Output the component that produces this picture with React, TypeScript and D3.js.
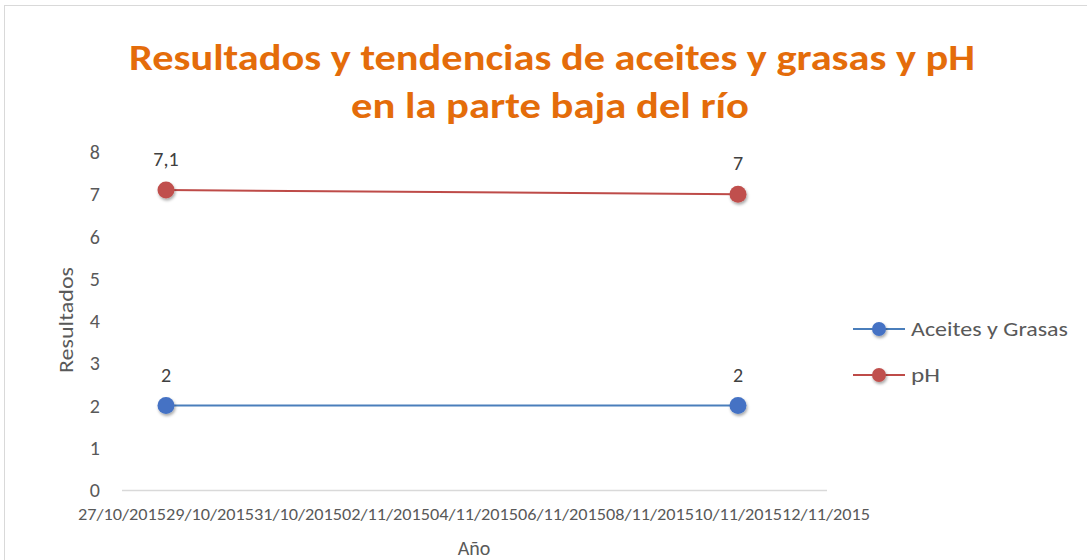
import { useEffect, useRef } from 'react';
import * as d3 from 'd3';

// data
const dates = ['2015-10-28', '2015-11-10'];
const aceites = [2, 2];
const ph = [7.1, 7];
const seriesNames = ['Aceites y Grasas', 'pH'];
const seriesColors = ['#4A7EBB', '#BE4B48'];
const markerColors = ['#4472C4', '#C0504D'];
const yTicks = [0, 1, 2, 3, 4, 5, 6, 7, 8];
const xStart = '2015-10-27';
const xEnd = '2015-11-12';

const parse = d3.utcParse('%Y-%m-%d');
const fmtLabel = d3.utcFormat('%d/%m/%Y');

export default function App() {
  const svgRef = useRef<SVGSVGElement>(null);

  useEffect(() => {
    if (!svgRef.current) return;
    const width = 1087;
    const height = 560;

    const svg = d3.select(svgRef.current);
    svg.selectAll('*').remove();

    const font = 'Carlito, Calibri, Lato, sans-serif';

    // shadow for markers
    const defs = svg.append('defs');
    const f = defs.append('filter').attr('id', 'shadow').attr('x', '-50%').attr('y', '-50%').attr('width', '200%').attr('height', '200%');
    f.append('feDropShadow').attr('dx', 1).attr('dy', 2).attr('stdDeviation', 1.5).attr('flood-color', '#000').attr('flood-opacity', 0.35);

    svg.append('rect').attr('width', width).attr('height', height).attr('fill', '#fff');
    // chart border
    svg
      .append('rect')
      .attr('x', 4.5)
      .attr('y', 5.5)
      .attr('width', width + 10)
      .attr('height', height + 10)
      .attr('fill', 'none')
      .attr('stroke', '#D9D9D9');

    // title
    const title = svg
      .append('text')
      .attr('text-anchor', 'middle')
      .style('font-family', font)
      .style('font-size', '36px')
      .style('font-weight', 'bold')
      .attr('fill', '#E46C0A');
    title.append('tspan').attr('x', 552).attr('y', 70).attr('textLength', 846).attr('lengthAdjust', 'spacingAndGlyphs').text('Resultados y tendencias de aceites y grasas y pH');
    title.append('tspan').attr('x', 550).attr('y', 118).attr('textLength', 398).attr('lengthAdjust', 'spacingAndGlyphs').text('en la parte baja del río');

    const x0 = parse(xStart)!;
    const x1 = parse(xEnd)!;
    const x = d3.scaleUtc().domain([x0, x1]).range([122, 826]);
    const y = d3.scaleLinear().domain([0, 8]).range([490, 152]);

    // x axis line
    svg.append('line').attr('x1', 122).attr('x2', 827).attr('y1', 490.5).attr('y2', 490.5).attr('stroke', '#D9D9D9').attr('stroke-width', 1.5);

    // x tick labels, every 2 days from the start
    const xTicks = d3.utcDay.range(x0, d3.utcDay.offset(x1, 1), 2);
    svg
      .append('g')
      .selectAll('text')
      .data(xTicks)
      .join('text')
      .attr('x', (d) => x(d))
      .attr('y', 520)
      .attr('text-anchor', 'middle')
      .attr('textLength', 88)
      .attr('lengthAdjust', 'spacingAndGlyphs')
      .style('font-family', font)
      .style('font-size', '16px')
      .attr('fill', '#595959')
      .text((d) => fmtLabel(d));

    // y tick labels
    svg
      .append('g')
      .selectAll('text')
      .data(yTicks)
      .join('text')
      .attr('x', 100)
      .attr('y', (d) => y(d) + 7)
      .attr('text-anchor', 'end')
      .style('font-family', font)
      .style('font-size', '20px')
      .attr('fill', '#595959')
      .text((d) => d);

    // axis titles
    svg
      .append('text')
      .attr('transform', 'translate(73,320) rotate(-90)')
      .attr('text-anchor', 'middle')
      .attr('textLength', 106)
      .attr('lengthAdjust', 'spacingAndGlyphs')
      .style('font-family', font)
      .style('font-size', '20px')
      .attr('fill', '#595959')
      .text('Resultados');
    svg
      .append('text')
      .attr('x', 474)
      .attr('y', 555)
      .attr('text-anchor', 'middle')
      .style('font-family', font)
      .style('font-size', '20px')
      .attr('fill', '#595959')
      .text('Año');

    const series = [aceites, ph];
    const line = d3
      .line<number>()
      .x((_, i) => x(parse(dates[i])!))
      .y((d) => y(d));

    series.forEach((vals, si) => {
      svg.append('path').attr('d', line(vals)).attr('fill', 'none').attr('stroke', seriesColors[si]).attr('stroke-width', 2);
      svg
        .append('g')
        .selectAll('circle')
        .data(vals)
        .join('circle')
        .attr('cx', (_, i) => x(parse(dates[i])!))
        .attr('cy', (d) => y(d))
        .attr('r', 8.5)
        .attr('fill', markerColors[si])
        .attr('filter', 'url(#shadow)');
      svg
        .append('g')
        .selectAll('text')
        .data(vals)
        .join('text')
        .attr('x', (_, i) => x(parse(dates[i])!))
        .attr('y', (d) => y(d) - 24)
        .attr('text-anchor', 'middle')
        .style('font-family', font)
        .style('font-size', '20px')
        .attr('fill', '#404040')
        .text((d) => String(d).replace('.', ','));
    });

    // legend
    const legend = svg.append('g');
    const legendLen = [157, 29];
    [329, 375].forEach((ly, i) => {
      legend.append('line').attr('x1', 853).attr('x2', 905).attr('y1', ly).attr('y2', ly).attr('stroke', seriesColors[i]).attr('stroke-width', 2);
      legend.append('circle').attr('cx', 879).attr('cy', ly).attr('r', 7).attr('fill', markerColors[i]).attr('filter', 'url(#shadow)');
      legend
        .append('text')
        .attr('x', 911)
        .attr('y', ly + 7)
        .attr('textLength', legendLen[i])
        .attr('lengthAdjust', 'spacingAndGlyphs')
        .style('font-family', font)
        .style('font-size', '20px')
        .attr('fill', '#595959')
        .text(seriesNames[i]);
    });
  }, []);

  return (
    <div>
      <svg
        ref={svgRef}
        width={1087}
        height={560}
        style={{ display: 'block', position: 'absolute', left: 0, top: 0 }}
      />
    </div>
  );
}
